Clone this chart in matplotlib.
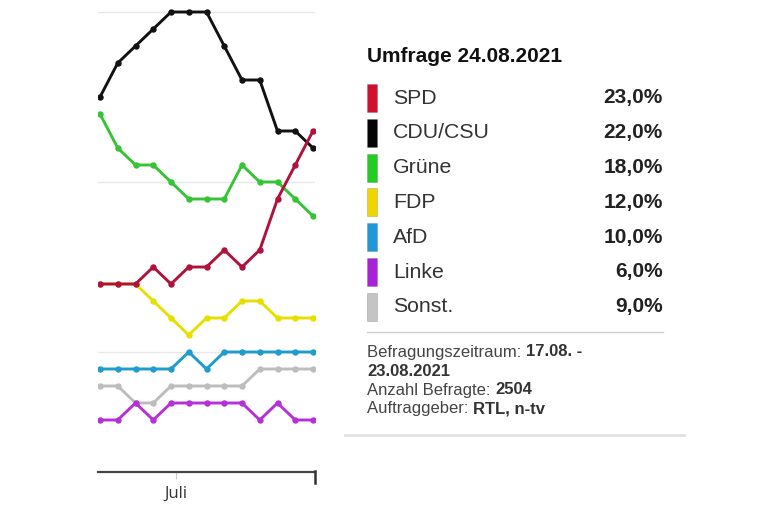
import matplotlib
matplotlib.use("Agg")
import matplotlib.pyplot as plt
from matplotlib.patches import Rectangle
from matplotlib.lines import Line2D
import pandas as pd

# ---------------- data ----------------
dates = ["2021-06-01", "2021-06-08", "2021-06-15", "2021-06-22", "2021-06-29",
         "2021-07-06", "2021-07-13", "2021-07-20", "2021-07-27", "2021-08-03",
         "2021-08-10", "2021-08-17", "2021-08-24"]
parties = ["SPD", "CDU/CSU", "Grüne", "FDP", "AfD", "Linke", "Sonst."]
spd    = [14, 14, 14, 15, 14, 15, 15, 16, 15, 16, 19, 21, 23]
cdu    = [25, 27, 28, 29, 30, 30, 30, 28, 26, 26, 23, 23, 22]
gruene = [24, 22, 21, 21, 20, 19, 19, 19, 21, 20, 20, 19, 18]
fdp    = [14, 14, 14, 13, 12, 11, 12, 12, 13, 13, 12, 12, 12]
afd    = [9, 9, 9, 9, 9, 10, 9, 10, 10, 10, 10, 10, 10]
linke  = [6, 6, 7, 6, 7, 7, 7, 7, 7, 6, 7, 6, 6]
sonst  = [8, 8, 7, 7, 8, 8, 8, 8, 8, 9, 9, 9, 9]
month_tick_date = "2021-07-01"
month_tick_label = "Juli"
title_text = "Umfrage 24.08.2021"
foot_lines = [("Befragungszeitraum: ", "17.08. -"),
              ("", "23.08.2021"),
              ("Anzahl Befragte: ", "2504"),
              ("Auftraggeber: ", "RTL, n-tv")]

series = [spd, cdu, gruene, fdp, afd, linke, sonst]
line_colors = ["#b0123c", "#111111", "#35c435", "#e6e000", "#1f9ccc", "#b531d6", "#bdbdbd"]
swatch_colors = ["#d0102c", "#050505", "#22cc22", "#f0d600", "#1e98d8", "#a821d8", "#c4c4c4"]

# ---------------- figure ----------------
W, H = 768, 512
fig = plt.figure(figsize=(W / 100, H / 100), dpi=100)
fig.patch.set_facecolor("white")
FONT = "Liberation Sans"

def fx(px):
    return px / W

def fy(py):
    return 1 - py / H

# chart axes: left 98px, right 315px, top 0px, bottom 472px
ax = fig.add_axes([fx(98), fy(472), fx(315) - fx(98), fy(0) - fy(472)])
d = pd.to_datetime(pd.Series(dates))
xs = (d - d.iloc[0]).dt.days.to_numpy()
step_pad = 7 * 2 / 17.75
ax.set_xlim(xs[0] - step_pad, xs[-1] + step_pad)
ax.set_ylim(22 - (472 - 148) / 17, 22 + 148 / 17)

for g in [10, 20, 30]:
    ax.axhline(g, color="#e9e9e9", lw=1.0, zorder=0)

order = [6, 5, 4, 3, 2, 1, 0]
for i in order:
    ax.plot(xs, series[i], color=line_colors[i], lw=2.1, marker="o",
            markersize=3.6, zorder=13 if i == 0 else 3,
            solid_joinstyle="miter")

for s in ["top", "left", "right"]:
    ax.spines[s].set_visible(False)
ax.spines["bottom"].set_color("#444444")
ax.spines["bottom"].set_linewidth(1.6)
ax.set_yticks([])
jt = (pd.Timestamp(month_tick_date) - d.iloc[0]).days
ax.set_xticks([jt])
ax.set_xticklabels([month_tick_label], fontsize=12, color="#333333", family="Open Sans")
ax.tick_params(axis="x", length=5, width=0.8, color="#cccccc", pad=5)
# right end tick
fig.add_artist(Line2D([fx(314.5), fx(314.5)], [fy(471), fy(483)], color="#333333", lw=1.8))

# ---------------- legend panel ----------------
fig.add_artist(Line2D([fx(345), fx(684)], [fy(435), fy(435)], color="#e2e2e2", lw=2.0))
fig.add_artist(Line2D([fx(367), fx(663)], [fy(332), fy(332)], color="#d0d0d0", lw=1.0))

fig.text(fx(367), fy(57), title_text, fontsize=15, fontweight="bold",
         color="#111111", family=FONT, va="center", ha="left")

row_y0, row_dy = 98, 34.8
for k, name in enumerate(parties):
    yc = row_y0 + k * row_dy
    fig.add_artist(Rectangle((fx(367), fy(yc + 14)), fx(377) - fx(367), fy(yc - 14) - fy(yc + 14),
                             facecolor=swatch_colors[k], edgecolor="#55555555", lw=0.5))
    fig.text(fx(393), fy(yc), name, fontsize=15.3, color="#333333", family=FONT,
             va="center", ha="left")
    val = f"{series[k][-1]:.1f}".replace(".", ",") + "%"
    fig.text(fx(663), fy(yc), val, fontsize=15, fontweight="bold", color="#222222",
             family=FONT, va="center", ha="right")

renderer = fig.canvas.get_renderer()
foot_y0, foot_dy = 352, 19
for k, (reg, bold) in enumerate(foot_lines):
    yc = foot_y0 + k * foot_dy
    x0 = fx(367)
    if reg:
        t = fig.text(x0, fy(yc), reg, fontsize=12, color="#444444", family=FONT,
                     va="center", ha="left")
        bb = t.get_window_extent(renderer=renderer)
        x0 = fig.transFigure.inverted().transform((bb.x1, bb.y0))[0]
    fig.text(x0, fy(yc), bold, fontsize=12, fontweight="bold", color="#333333",
             family=FONT, va="center", ha="left")

fig.savefig("out.png", dpi=100, facecolor="white")
